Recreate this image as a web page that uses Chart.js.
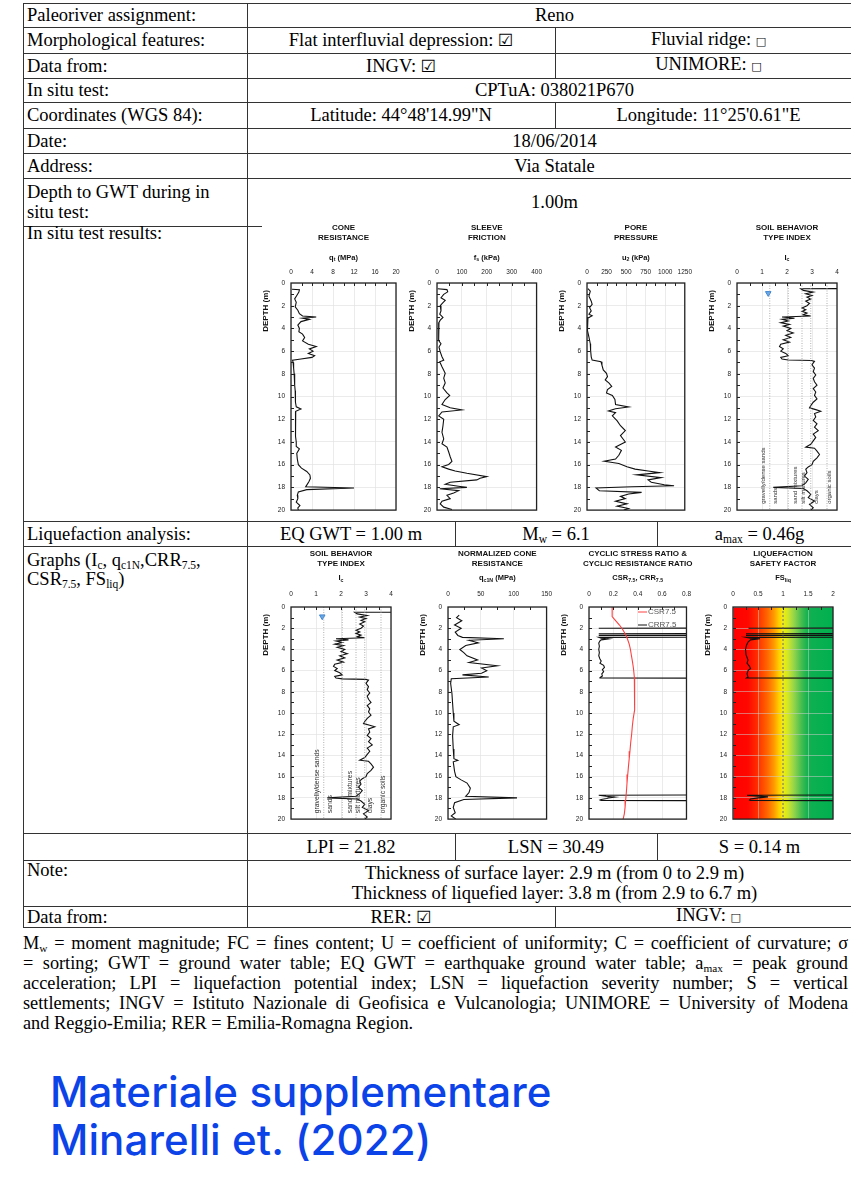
<!DOCTYPE html>
<html><head><meta charset="utf-8">
<script src="https://cdn.jsdelivr.net/npm/chart.js@4.4.1/dist/chart.umd.min.js"></script>
<style>
html,body{margin:0;padding:0;background:#fff;}
body{width:851px;height:1185px;overflow:hidden;position:relative;font-family:"Liberation Serif","Times New Roman",serif;color:#000;}
.hl{position:absolute;height:1px;background:#333;}
.vl{position:absolute;width:1px;background:#333;}
.cell{position:absolute;display:flex;align-items:center;font-size:18.5px;line-height:20px;white-space:nowrap;box-sizing:border-box;}
.c{justify-content:center;text-align:center;}
.l{padding-left:4px;}
.bx{font-size:11px;font-family:"DejaVu Sans",sans-serif;}
.ck{font-family:"DejaVu Sans",sans-serif;font-size:17px;}
sub{font-size:0.62em;vertical-align:-0.25em;line-height:0;}
canvas{position:absolute;}
.foot{position:absolute;left:23px;top:933px;width:825px;font-size:18.3px;line-height:20px;}
.foot div{text-align:justify;text-align-last:justify;height:20px;}
.foot div.last{text-align-last:left;}
.blue{position:absolute;left:50px;top:1068px;font-family:Inter,"Noto Sans",sans-serif;font-size:42px;font-weight:500;color:#0b43e8;line-height:48px;letter-spacing:0.1px;}
</style></head><body>
<div class="foot">
<div>M<sub>w</sub> = moment magnitude; FC = fines content; U = coefficient of uniformity; C = coefficient of curvature; σ</div>
<div>= sorting; GWT = ground water table; EQ GWT = earthquake ground water table; a<sub>max</sub> = peak ground</div>
<div>acceleration; LPI = liquefaction potential index; LSN = liquefaction severity number; S = vertical</div>
<div>settlements; INGV = Istituto Nazionale di Geofisica e Vulcanologia; UNIMORE = University of Modena</div>
<div class="last">and Reggio-Emilia; RER = Emilia-Romagna Region.</div>
</div>
<div class="blue">Materiale supplementare<br>Minarelli et. (2022)</div>
<script>
// ---------------- DATA ----------------
const qtDepth = [0.55,0.6,0.8,1.1,1.4,1.7,2.1,2.4,2.7,2.9,3.0,3.1,3.2,3.4,3.7,4.0,4.3,4.5,4.8,5.1,5.4,5.6,5.8,6.0,6.2,6.4,6.55,6.7,6.8,7.0,7.5,8.0,8.5,9.0,9.5,10.0,10.5,10.9,11.1,11.3,11.6,12.0,12.5,13.0,13.5,14.0,14.4,14.6,15.0,15.5,16.0,16.3,16.6,16.9,17.2,17.5,17.8,17.95,18.05,18.2,18.4,18.7,19.0,19.3,19.6,19.8,20.0];
const qtMPa = [0.2,1.6,1.5,1.1,0.7,1.0,0.8,1.3,1.6,2.2,4.8,2.2,3.5,1.9,1.3,1.6,1.5,2.2,2.6,2.2,3.3,4.8,3.5,4.2,3.3,4.5,4.0,1.9,0.3,0.4,0.5,0.6,0.7,0.7,0.8,0.8,0.9,1.0,1.9,0.9,0.8,0.8,0.9,0.9,0.9,1.0,1.0,1.6,1.1,1.2,1.4,2.0,3.0,3.6,3.7,3.4,3.0,2.8,12.0,3.0,1.4,1.2,1.3,1.0,1.7,1.3,1.4];

const fsDepth = [0.5,0.58,0.78,1.0,1.3,1.53,1.73,2.0,2.46,2.75,3.03,3.27,3.47,3.9,4.48,5.06,5.35,5.64,6.07,6.5,6.8,6.94,7.37,7.95,8.38,8.8,9.25,9.68,9.9,10.26,10.7,10.98,11.18,11.36,11.7,12.0,12.57,13.15,13.73,14.16,14.45,14.88,15.3,15.7,15.98,16.18,16.39,16.56,16.76,17.05,17.2,17.34,17.54,17.72,17.92,18.0,18.12,18.29,18.5,18.7,18.99,19.22,19.45,19.74,19.94];
const fsKPa = [3,40,43,27,16,33,24,13,16,11,24,13,8,8,5,7,16,8,13,20,27,11,20,33,27,33,24,40,51,33,20,53,100,20,7,27,24,20,27,20,40,47,53,60,47,20,47,73,120,200,173,160,53,33,93,120,11,87,67,40,53,20,13,27,60];

const u2Depth = [0.5,0.72,1.16,1.6,1.88,2.17,2.46,2.75,2.89,3.09,3.6,4.19,4.77,5.35,5.92,6.5,6.79,6.94,7.23,7.66,7.95,8.24,8.53,8.82,9.1,9.39,9.68,9.9,10.26,10.7,10.92,11.07,11.27,11.42,11.7,12.14,12.57,13.0,13.44,14.0,14.45,14.74,15.17,15.5,15.7,15.9,16.18,16.39,16.56,16.7,16.9,17.14,17.34,17.54,17.77,17.86,17.95,18.06,18.29,18.44,18.58,18.79,18.99,19.22,19.45,19.65,19.86,20.0];
const u2KPa = [12,42,25,54,66,33,54,25,66,12,4,8,25,42,46,54,66,179,191,208,249,262,233,282,316,262,249,324,357,365,532,365,274,365,324,386,428,490,428,490,365,440,407,365,220,407,511,615,781,930,635,947,781,822,988,1113,573,116,158,698,532,428,490,365,511,386,532,470];

const icDepth = [0.49,0.5,0.65,0.8,0.95,1.1,1.25,1.4,1.6,1.8,2.0,2.2,2.35,2.5,2.65,2.8,2.9,3.0,3.1,3.2,3.35,3.5,3.65,3.8,4.0,4.2,4.4,4.6,4.8,5.0,5.2,5.4,5.6,5.8,6.0,6.2,6.4,6.55,6.7,6.78,6.82,6.9,7.2,7.5,7.8,8.1,8.4,8.7,9.0,9.3,9.6,9.9,10.2,10.5,10.8,11.0,11.15,11.3,11.5,11.8,12.1,12.4,12.7,13.0,13.3,13.6,13.9,14.2,14.45,14.55,14.8,15.1,15.4,15.7,16.0,16.2,16.4,16.7,17.0,17.3,17.6,17.85,18.0,18.1,18.3,18.6,18.9,19.2,19.5,19.8,20.0];
const icValues = [4.6,2.55,2.65,3.05,2.75,3.0,2.8,2.95,2.75,2.9,2.8,2.6,2.75,2.6,2.8,2.65,2.95,1.8,2.3,1.8,2.05,1.75,2.1,1.85,2.15,2.0,2.25,1.95,2.15,1.85,2.1,1.75,1.7,1.85,1.75,1.95,2.05,1.75,1.8,2.05,2.98,3.1,3.0,3.1,3.05,3.15,3.05,3.1,3.2,3.05,3.15,3.1,3.2,3.05,2.95,2.9,3.15,3.35,3.1,3.15,3.05,3.2,3.1,3.25,3.05,3.15,3.05,2.95,2.75,3.1,3.2,3.3,3.2,3.05,3.0,2.85,2.75,2.8,2.7,2.85,2.75,2.6,1.45,2.65,2.8,2.95,2.85,3.1,2.9,3.05,2.95];
const icBoundaries = [1.31, 2.05, 2.60, 2.95, 3.60];
const icZoneLabels = ['gravelly/dense sands','sands','sand mixtures','silt mixtures','clays','organic soils'];
const icZoneAt = [1.04, 1.55, 2.35, 2.67, 3.17, 3.7];
const gwtMarker = {ic: 1.25, depth: 0.9};

const qc1nDepth = [0.77,1.0,1.3,1.7,2.0,2.37,2.68,2.86,3.0,3.14,3.38,3.63,4.0,4.3,4.6,5.0,5.23,5.54,5.75,6.0,6.25,6.4,6.6,6.77,7.2,8.15,9.1,10.0,10.77,11.1,11.3,12.15,13.4,14.3,14.46,14.6,15.5,16.0,16.3,16.6,17.08,17.5,17.85,18.0,18.15,18.46,18.9,19.4,19.7,20.0];
const qc1nValues = [17,13,21,10,20,11,15,22,85,32,46,27,18,24,29,45,32,75,51,59,51,22,62,5,4,6,7,8,9,17,8,7,8,9,15,8,10,12,20,29,34,32,27,105,24,10,8,11,5,12];

const csrDepth = [0,0.9,1.3,1.7,2.1,2.6,3.0,3.5,4.0,4.5,5.1,5.8,6.6,7.4,8.2,9.0,9.7,10.5,11.2,12.0,12.8,13.6,14.3,15.0,15.8,16.6,17.4,18.2,18.9,19.5,20];
const csrValues = [0.19,0.19,0.22,0.25,0.275,0.30,0.315,0.33,0.34,0.347,0.356,0.365,0.372,0.376,0.377,0.375,0.37,0.363,0.356,0.35,0.342,0.336,0.33,0.324,0.318,0.312,0.307,0.301,0.296,0.29,0.28];
const crrDepth = [0.5,1.98,2.0,2.02,2.5,2.52,2.54,2.66,2.68,2.7,2.84,2.86,2.95,3.0,3.1,3.2,3.4,3.7,4.0,4.3,4.6,4.9,5.1,5.3,5.5,5.7,5.9,6.1,6.3,6.5,6.65,6.7,6.72,17.7,17.75,17.85,17.92,18.0,18.05,18.15,18.2,18.25,18.27,20];
const crrValues = [2,2,0.08,2,2,0.08,2,2,0.08,2,2,0.08,0.1,0.16,0.1,0.09,0.08,0.085,0.08,0.085,0.08,0.09,0.1,0.09,0.12,0.127,0.11,0.12,0.105,0.11,0.09,0.09,2,2,0.08,0.14,0.21,0.16,0.145,0.1,0.09,0.1,2,2];

const fsliqDepth = [0.5,1.98,2.0,2.02,2.5,2.52,2.54,2.66,2.68,2.7,2.84,2.86,2.95,3.0,3.1,3.3,3.6,4.0,4.5,5.0,5.3,5.6,5.8,6.0,6.3,6.6,6.7,6.72,17.7,17.75,17.9,18.0,18.1,18.2,18.25,18.27,20];
const fsliqValues = [5,5,0.31,5,5,0.26,5,5,0.26,5,5,0.26,0.35,0.54,0.35,0.3,0.27,0.25,0.26,0.3,0.28,0.33,0.35,0.3,0.28,0.3,0.27,5,5,0.28,0.7,0.5,0.35,0.33,0.35,5,5];
const fsThreshold = 1;

// axis ranges [min, max, step]
const qtAxis = [0,20,4], fsAxis = [0,400,100], u2Axis = [0,1250,250], icAxis = [0,4,1];
const qc1nAxis = [0,150,50], csrAxis = [0,0.8,0.2], fsliqAxis = [0,2,0.5];
const depthAxis = [0,20,2];

// ---------------- TABLE ----------------
const R = 862;
function el(cls, st, html){const d=document.createElement('div');d.className=cls;Object.assign(d.style,st);if(html!==undefined)d.innerHTML=html;document.body.appendChild(d);return d;}
function hl(x1,x2,y){el('hl',{left:x1+'px',top:y+'px',width:(x2-x1)+'px'});}
function vl(x,y1,y2){el('vl',{left:x+'px',top:y1+'px',height:(y2-y1+1)+'px'});}
[3,27,53,78,102,128,153,178,521,546,833,860,906,927].forEach(y=>hl(23,R,y));
hl(23,262,226);
vl(23,3,927); vl(247,3,927);
vl(555,27,78); vl(555,102,128); vl(555,906,927);
vl(455,521,546); vl(657,521,546); vl(455,833,860); vl(657,833,860);
const CK='<span class="ck">☑</span>', BX='<span class="bx">□</span>';
const cells = [
 [23,3,247,27,'Paleoriver assignment:','l'],
 [247,3,R,27,'Reno','c'],
 [23,27,247,53,'Morphological features:','l'],
 [247,27,555,53,'Flat interfluvial depression: '+CK,'c'],
 [555,27,R,53,'Fluvial ridge: '+BX,'c'],
 [23,53,247,78,'Data from:','l'],
 [247,53,555,78,'INGV: '+CK,'c'],
 [555,53,R,78,'UNIMORE: '+BX,'c'],
 [23,78,247,102,'In situ test:','l'],
 [247,78,R,102,'CPTuA: 038021P670','c'],
 [23,102,247,128,'Coordinates (WGS 84):','l'],
 [247,102,555,128,'Latitude: 44°48\'14.99"N','c'],
 [555,102,R,128,'Longitude: 11°25\'0.61"E','c'],
 [23,128,247,153,'Date:','l'],
 [247,128,R,153,'18/06/2014','c'],
 [23,153,247,178,'Address:','l'],
 [247,153,R,178,'Via Statale','c'],
 [23,178,247,226,'Depth to GWT during in<br>situ test:','l'],
 [247,178,R,226,'1.00m','c'],
 [23,226,247,240,'In situ test results:','l'],
 [23,521,247,546,'Liquefaction analysis:','l'],
 [247,521,455,546,'EQ GWT = 1.00 m','c'],
 [455,521,657,546,'M<sub>w</sub> = 6.1','c'],
 [657,521,R,546,'a<sub>max</sub> = 0.46g','c'],
 [23,551,247,589,'<div style="line-height:19px">Graphs (I<sub>c</sub>, q<sub>c1N</sub>,CRR<sub>7.5</sub>,<br>CSR<sub>7.5</sub>, FS<sub>liq</sub>)</div>','l'],
 [247,833,455,860,'LPI = 21.82','c'],
 [455,833,657,860,'LSN = 30.49','c'],
 [657,833,R,860,'S = 0.14 m','c'],
 [23,860,247,880,'Note:','l'],
 [247,860,R,906,'Thickness of surface layer: 2.9 m (from 0 to 2.9 m)<br>Thickness of liquefied layer: 3.8 m (from 2.9 to 6.7 m)','c'],
 [23,906,247,927,'Data from:','l'],
 [247,906,555,927,'RER: '+CK,'c'],
 [555,906,R,927,'INGV: '+BX,'c']
];
cells.forEach(c=>el('cell '+c[5],{left:c[0]+'px',top:c[1]+'px',width:(c[2]-c[0])+'px',height:(c[3]-c[1])+'px'},'<span>'+c[4]+'</span>'));

// ---------------- CHARTS ----------------
const FF = '"Liberation Sans", Arial, Helvetica, sans-serif';
Chart.defaults.font.family = FF;
Chart.defaults.color = '#222';

function rich(ctx, parts, cx, y, size){
  const f = s => 'bold ' + s + 'px ' + FF;
  let total = 0;
  const ws = parts.map(p => { ctx.font = f(p[1] ? size*0.7 : size); const w = ctx.measureText(p[0]).width; total += w; return w; });
  let x = cx - total/2;
  ctx.textAlign = 'left'; ctx.textBaseline = 'middle';
  parts.forEach((p,i) => { ctx.font = f(p[1] ? size*0.7 : size); ctx.fillText(p[0], x, p[1] ? y + size*0.3 : y); x += ws[i]; });
}

const cptPlugin = {
  id: 'cpt',
  beforeDraw(chart){
    const o = chart.canvas.$cpt; if (!o.gradient) return;
    const {ctx, chartArea:a} = chart, xs = chart.scales.x;
    const g = ctx.createLinearGradient(a.left,0,a.right,0);
    o.gradient.forEach(s => g.addColorStop(Math.min(1,Math.max(0,(xs.getPixelForValue(s[0])-a.left)/(a.right-a.left))), s[1]));
    ctx.save(); ctx.fillStyle = g; ctx.fillRect(a.left,a.top,a.right-a.left,a.bottom-a.top); ctx.restore();
  },
  afterDatasetsDraw(chart){
    const o = chart.canvas.$cpt, {ctx, chartArea:a} = chart, xs = chart.scales.x, ys = chart.scales.y;
    ctx.save();
    ctx.strokeStyle = '#222'; ctx.lineWidth = 1;
    ctx.beginPath();
    const st = o.xr[2]/2;
    for (let v = o.xr[0]+st; v < o.xr[1]-1e-9; v += st){ const px = Math.round(xs.getPixelForValue(v))+0.5; ctx.moveTo(px,a.top); ctx.lineTo(px,a.top+3); }
    for (let d = 1; d < 20; d++){ const py = Math.round(ys.getPixelForValue(d))+0.5; ctx.moveTo(a.left,py); ctx.lineTo(a.left+3,py); }
    ctx.stroke();
    ctx.lineWidth = 1.3;
    ctx.strokeRect(a.left, a.top, a.right-a.left, a.bottom-a.top);
    ctx.restore();
  },
  afterDraw(chart){
    const o = chart.canvas.$cpt, {ctx, chartArea:a} = chart, xs = chart.scales.x, ys = chart.scales.y, r = o.row;
    const cx = (a.left+a.right)/2;
    ctx.save();
    ctx.fillStyle = '#111'; ctx.textAlign = 'center'; ctx.textBaseline = 'middle';
    ctx.font = 'bold 8px ' + FF;
    ctx.fillText(o.title[0], cx, a.top + r.t1);
    ctx.fillText(o.title[1], cx, a.top + r.t2);
    rich(ctx, o.axis, cx, a.top + r.lab, 7.5);
    ctx.save();
    ctx.translate(a.left - 25, a.top + 7); ctx.rotate(-Math.PI/2);
    ctx.textAlign = 'right'; ctx.textBaseline = 'middle'; ctx.font = 'bold 8px ' + FF;
    ctx.fillText('DEPTH (m)', 0, 0);
    ctx.restore();
    if (o.zones){
      ctx.fillStyle = '#333'; ctx.font = o.zones.size + 'px ' + FF;
      icZoneLabels.forEach((t,i) => {
        ctx.save();
        ctx.translate(xs.getPixelForValue(icZoneAt[i]), ys.getPixelForValue(19.45));
        ctx.rotate(-Math.PI/2); ctx.textAlign = 'left'; ctx.textBaseline = 'middle';
        ctx.fillText(t, 0, 0); ctx.restore();
      });
    }
    if (o.legend){
      ctx.font = '8px ' + FF; ctx.textAlign = 'left'; ctx.textBaseline = 'middle';
      chart.data.datasets.filter(d => d.inLegend).forEach((d,i) => {
        const y = a.top + 5 + i*13;
        ctx.strokeStyle = d.borderColor; ctx.lineWidth = 1;
        ctx.beginPath(); ctx.moveTo(a.left+49, y); ctx.lineTo(a.left+58, y); ctx.stroke();
        ctx.fillStyle = '#555'; ctx.fillText(d.label, a.left+59, y);
      });
    }
    ctx.restore();
  }
};

const TOPROW = {T:283, B:514, t1:-55.5, t2:-45.5, lab:-25.5, tp:7};
const BOTROW = {T:607, B:823, t1:-53, t2:-43, lab:-29, tp:9};
const pts = (d, v) => d.map((y,i) => ({x:v[i], y}));
const line = (d, v, color, label) => ({label, data: pts(d,v), showLine:true, pointRadius:0, borderColor:color||'#111', borderWidth:1.1, fill:false});
const vline = (x, color, dash) => ({data:[{x, y:depthAxis[0]},{x, y:depthAxis[1]}], showLine:true, pointRadius:0, borderColor:color, borderWidth:0.8, borderDash:dash});
const tickFmt = v => String(Math.round(v*1000)/1000);

function cptChart(L, Rr, row, xr, datasets, extra){
  const YW = 33, PR = 12, PB = 6, TOP = 63;
  const c = document.createElement('canvas');
  const W = Rr - L + YW + PR, H = TOP + row.B - row.T + PB;
  c.width = W; c.height = H;
  Object.assign(c.style, {left:(L-YW)+'px', top:(row.T-TOP)+'px', width:W+'px', height:H+'px'});
  c.$cpt = Object.assign({row, xr}, extra);
  document.body.appendChild(c);
  const gridColor = extra.grid || '#e3e3e3';
  return new Chart(c, {
    type: 'scatter',
    data: {datasets},
    options: {
      responsive:false, animation:false, events:[],
      layout:{padding:{left:0, top:0, right:PR, bottom:PB}},
      plugins:{legend:{display:false}, tooltip:{enabled:false}},
      scales:{
        x:{type:'linear', position:'top', min:xr[0], max:xr[1], afterFit:s=>{s.height=TOP;},
           ticks:{stepSize:xr[2], font:{size:6.5}, color:'#222', padding:row.tp, maxRotation:0, minRotation:0, autoSkip:false, callback:tickFmt},
           grid:{color:gridColor, lineWidth:0.7, drawTicks:false}, border:{display:false}},
        y:{type:'linear', reverse:true, min:depthAxis[0], max:depthAxis[1], afterFit:s=>{s.width=YW;},
           ticks:{stepSize:depthAxis[2], font:{size:6.5}, color:'#222', padding:6, callback:tickFmt},
           grid:{color:gridColor, lineWidth:0.7, drawTicks:false}, border:{display:false}}
      }
    },
    plugins:[cptPlugin]
  });
}

const icSets = () => [
  ...icBoundaries.map(b => vline(b, '#9a9a9a', [1,1.5])),
  {data:[{x:gwtMarker.ic, y:gwtMarker.depth}], showLine:false, pointStyle:'triangle', rotation:180, pointRadius:3.2, backgroundColor:'#6aaae8', borderColor:'#3d85d6', borderWidth:1},
  line(icDepth, icValues)
];

cptChart(291, 396, TOPROW, qtAxis, [line(qtDepth, qtMPa)], {title:['CONE','RESISTANCE'], axis:[['q',0],['t',1],[' (MPa)',0]]});
cptChart(437, 537, TOPROW, fsAxis, [line(fsDepth, fsKPa)], {title:['SLEEVE','FRICTION'], axis:[['f',0],['s',1],[' (kPa)',0]]});
cptChart(587, 687, TOPROW, u2Axis, [line(u2Depth, u2KPa)], {title:['PORE','PRESSURE'], axis:[['u',0],['2',1],[' (kPa)',0]]});
cptChart(737, 837, TOPROW, icAxis, icSets(), {title:['SOIL BEHAVIOR','TYPE INDEX'], axis:[['I',0],['c',1]], zones:{size:6}});

cptChart(291, 391, BOTROW, icAxis, icSets(), {title:['SOIL BEHAVIOR','TYPE INDEX'], axis:[['I',0],['c',1]], zones:{size:6.8}});
cptChart(448, 549, BOTROW, qc1nAxis, [line(qc1nDepth, qc1nValues)], {title:['NORMALIZED CONE','RESISTANCE'], axis:[['q',0],['c1N',1],[' (MPa)',0]]});
cptChart(589, 688, BOTROW, csrAxis, [
  Object.assign(line(csrDepth, csrValues, '#ff4040', 'CSR7.5'), {inLegend:true}),
  Object.assign(line(crrDepth, crrValues, '#111', 'CRR7.5'), {inLegend:true})
], {title:['CYCLIC STRESS RATIO &','CYCLIC RESISTANCE RATIO'], axis:[['CSR',0],['7.5',1],[', CRR',0],['7.5',1]], legend:true});
cptChart(733, 833, BOTROW, fsliqAxis, [
  vline(fsThreshold, '#555', [2,2]),
  line(fsliqDepth, fsliqValues)
], {title:['LIQUEFACTION','SAFETY FACTOR'], axis:[['FS',0],['liq',1]], grid:'rgba(205,205,205,0.75)',
   gradient:[[0,'#ff0000'],[0.3,'#ff0800'],[0.5,'#ff3000'],[0.7,'#ff6a00'],[0.82,'#ff9a00'],[0.92,'#ffcf00'],[1.0,'#f2f000'],[1.1,'#cfe62c'],[1.22,'#94d44a'],[1.38,'#40bc50'],[1.5,'#10b050'],[2,'#00b050']]});
</script>
</body></html>
